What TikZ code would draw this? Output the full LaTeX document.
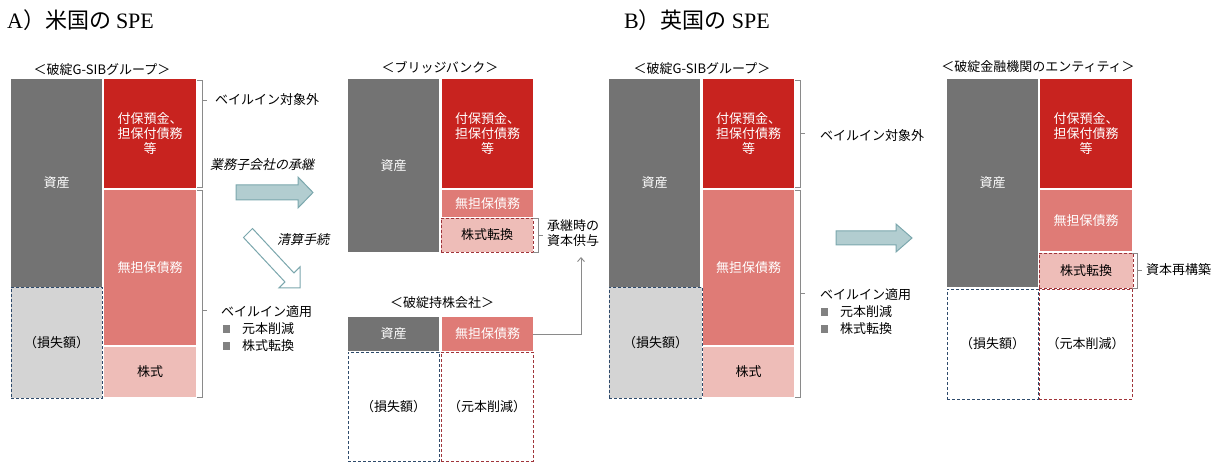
\documentclass[tikz,border=0pt]{standalone}
\usepackage{fontspec}
\setmainfont{Noto Sans CJK JP}
\newfontfamily\jp{Noto Sans CJK JP}
\newfontfamily\jpit[FakeSlant=0.22]{Noto Sans CJK JP}
\newfontfamily\lat{Liberation Serif}
\usetikzlibrary{arrows.meta}
\definecolor{assetgray}{HTML}{737373}
\definecolor{deepred}{HTML}{C8231F}
\definecolor{midpink}{HTML}{DF7B76}
\definecolor{lightpink}{HTML}{EEBDB8}
\definecolor{lossgray}{HTML}{D4D4D4}
\definecolor{dashblue}{HTML}{2E4A6B}
\definecolor{dashred}{HTML}{A0343A}
\definecolor{tealfill}{HTML}{B2CDD0}
\definecolor{tealline}{HTML}{7BA7AD}
\definecolor{brgray}{HTML}{8A8A8A}
\newcommand\bx[7]{\node[#1, minimum width={(#5)-(#3)}, minimum height={(#6)-(#4)}] (#2) at ({((#3)+(#5))/2},{((#4)+(#6))/2}) {#7};}
\newcommand\brk[5]{\draw[brk] (#1-5,#2) -- (#1,#2) -- (#1,#3) -- (#1-5,#3); \draw[brk] (#1,#4) -- (#1+5,#4) coordinate (#5);}
\begin{document}
\begin{tikzpicture}[x=1pt,y=-1pt,
  every node/.style={font=\fontsize{13}{15}\selectfont\jp, inner sep=0pt, align=center},
  cell/.style={inner sep=0pt, outer sep=0pt},
  asset/.style={cell, fill=assetgray, text=white},
  secured/.style={cell, fill=deepred, text=white},
  unsecured/.style={cell, fill=midpink, text=white},
  equity/.style={cell, fill=lightpink, text=black},
  conv/.style={cell, fill=lightpink, text=black, draw=dashred, line width=0.9pt, dash pattern=on 3pt off 2pt},
  loss/.style={cell, fill=lossgray, text=black, draw=dashblue, line width=0.9pt, dash pattern=on 3pt off 2pt},
  lossw/.style={cell, fill=white, text=black, draw=dashblue, line width=0.9pt, dash pattern=on 3pt off 2pt},
  cutw/.style={cell, fill=white, text=black, draw=dashred, line width=0.9pt, dash pattern=on 3pt off 2pt},
  lbl/.style={anchor=west, text=black},
  ttl/.style={text=black},
  brk/.style={draw=brgray, line width=0.6pt},
  bullet/.style={fill=assetgray!90, minimum size=7.5pt, inner sep=0pt},
  blockarrow/.style={fill=tealfill, draw=tealline, line width=1pt, line join=miter},
  openarrow/.style={fill=white, draw=tealline, line width=1pt, line join=miter},
  link/.style={draw=brgray, line width=0.9pt, -{Straight Barb[length=4pt,width=7pt]}}
]
\useasboundingbox (0,0) rectangle (1226,462);

% ---------- titles ----------
\node[anchor=west, font=\fontsize{22}{24}\selectfont] (titleA) at (7,20) {\lat A\jp）米国の \lat SPE};
\node[anchor=west, font=\fontsize{22}{24}\selectfont] (titleB) at (624,20) {\lat B\jp）英国の \lat SPE};

% ---------- A: failed G-SIB group ----------
\node[ttl] (tA1) at (102,70) {＜破綻G-SIBグループ＞};
\bx{asset}{A1asset}{11}{79}{102}{287}{資産}
\bx{loss}{A1loss}{11}{287}{102}{398}{（損失額）}
\bx{secured}{A1sec}{104}{79}{196}{188}{付保預金、\\担保付債務\\等}
\bx{unsecured}{A1uns}{104}{190}{196}{345}{無担保債務}
\bx{equity}{A1eq}{104}{347}{196}{397}{株式}
\brk{202}{80}{187}{100}{A1b1}
\brk{202}{190}{397}{310}{A1b2}
\node[lbl] (A1out) at (215,100) {ベイルイン対象外};
\node[lbl] (A1in) at (221,312) {ベイルイン適用};
\node[bullet] (A1sq1) at (226.5,329) {};
\node[bullet] (A1sq2) at (226.5,346) {};
\node[lbl] (A1cut) at (242,329) {元本削減};
\node[lbl] (A1conv) at (242,346) {株式転換};

% arrows A
\node[anchor=west, font=\fontsize{13}{15}\selectfont\jpit] (succ) at (210,165) {業務子会社の承継};
\draw[blockarrow] (236,185) -- (298,185) -- (298,177) -- (313,192.5) -- (298,208) -- (298,200) -- (236,200) -- cycle;
\node[anchor=west, font=\fontsize{13}{15}\selectfont\jpit] (liq) at (277,240) {清算手続};
\draw[openarrow] (252.5,228.5) -- (293.9,272.9) -- (300,266.8) -- (300,288) -- (278.8,288) -- (284.9,281.9) -- (243.5,237.5) -- cycle;

% ---------- A: bridge bank ----------
\node[ttl] (tBB) at (440,67) {＜ブリッジバンク＞};
\bx{asset}{BBasset}{348}{79}{439}{252}{資産}
\bx{secured}{BBsec}{442}{79}{533}{188}{付保預金、\\担保付債務\\等}
\bx{unsecured}{BBuns}{442}{190}{533}{217}{無担保債務}
\bx{conv}{BBconv}{441}{218}{533}{252}{株式転換}
\brk{538}{218}{252}{235}{BBb}
\node[lbl] (cap) at (547,233) {承継時の\\資本供与};
\coordinate (capin) at (581,257);

% ---------- A: failed holding company ----------
\node[ttl] (tHD) at (442,303) {＜破綻持株会社＞};
\bx{asset}{HDasset}{348}{317}{439}{351}{資産}
\bx{unsecured}{HDuns}{442}{317}{533}{351}{無担保債務}
\bx{lossw}{HDloss}{348}{352}{439}{461}{（損失額）}
\bx{cutw}{HDcut}{441}{352}{533}{461}{（元本削減）}
\draw[link] (HDuns.east) -| (capin);

% ---------- B: failed G-SIB group ----------
\node[ttl] (tB1) at (702,69) {＜破綻G-SIBグループ＞};
\bx{asset}{B1asset}{609}{79}{700}{287}{資産}
\bx{loss}{B1loss}{609}{287}{702}{398}{（損失額）}
\bx{secured}{B1sec}{703}{79}{794}{188}{付保預金、\\担保付債務\\等}
\bx{unsecured}{B1uns}{703}{190}{794}{345}{無担保債務}
\bx{equity}{B1eq}{703}{347}{794}{397}{株式}
\brk{800}{80}{187}{133}{B1b1}
\brk{800}{190}{397}{293}{B1b2}
\node[lbl] (B1out) at (820,136) {ベイルイン対象外};
\node[lbl] (B1in) at (820,295) {ベイルイン適用};
\node[bullet] (B1sq1) at (824.5,312) {};
\node[bullet] (B1sq2) at (824.5,329) {};
\node[lbl] (B1cut) at (840,312) {元本削減};
\node[lbl] (B1conv) at (840,329) {株式転換};

\draw[blockarrow] (836,231) -- (896,231) -- (896,224) -- (912,238) -- (896,252) -- (896,245) -- (836,245) -- cycle;

% ---------- B: failed entity ----------
\node[ttl] (tEN) at (1038,67) {＜破綻金融機関のエンティティ＞};
\bx{asset}{ENasset}{947}{79}{1038}{287}{資産}
\bx{secured}{ENsec}{1040}{79}{1132}{188}{付保預金、\\担保付債務\\等}
\bx{unsecured}{ENuns}{1040}{190}{1132}{251}{無担保債務}
\bx{conv}{ENconv}{1039}{253}{1133}{288}{株式転換}
\bx{lossw}{ENloss}{947}{289}{1038}{399}{（損失額）}
\bx{cutw}{ENcut}{1039}{289}{1132}{399}{（元本削減）}
\brk{1137}{253}{288}{270}{ENb}
\node[lbl] (recap) at (1146,270) {資本再構築};
\end{tikzpicture}
\end{document}
